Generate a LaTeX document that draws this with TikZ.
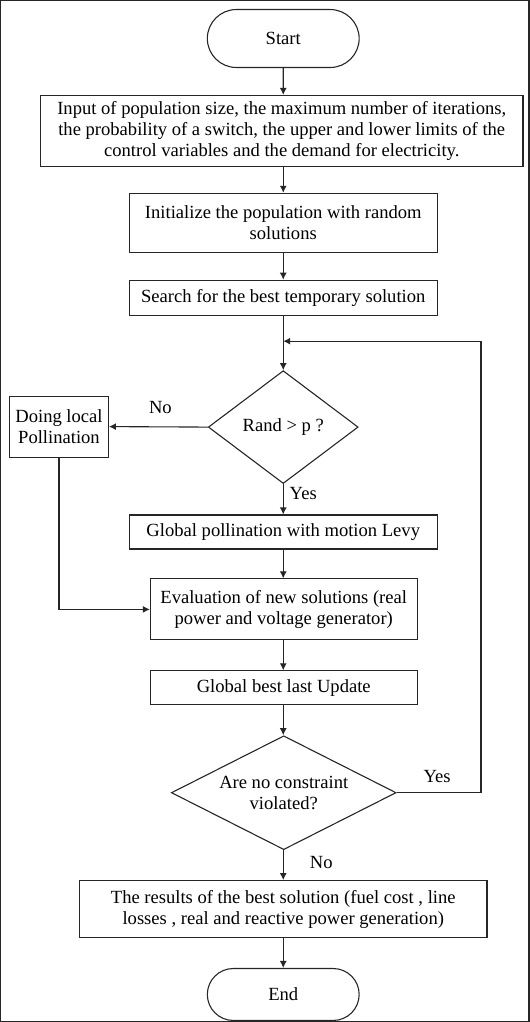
\documentclass[tikz,border=0pt]{standalone}
\usepackage{fontspec}
\setmainfont{Liberation Serif}
\usetikzlibrary{shapes.geometric,shapes.misc,arrows.meta}
\begin{document}
\begin{tikzpicture}[x=1pt,y=-1pt,
  font=\fontsize{18.6}{21}\selectfont,
  every path/.style={line width=1.1pt, draw=black!85},
  box/.style={draw=black!85, line width=1.1pt, align=center, inner sep=1pt, rectangle},
  term/.style={draw=black!85, line width=1.1pt, rounded rectangle, minimum width=152pt, minimum height=58pt, inner sep=0pt},
  dec/.style={draw=black!85, line width=1.1pt, diamond, align=center, inner sep=0pt},
  arr/.style={-{Latex[length=7pt,width=7pt]}},
  lbl/.style={inner sep=0pt}]
\useasboundingbox (0,0) rectangle (529,1022);
\node[term] (start) at (283,38) {Start};
\node[box, minimum width=483pt, minimum height=71pt] (input) at (281.5,130.5)
  {Input of population size, the maximum number of iterations,\\the probability of a switch, the upper and lower limits of the\\control variables and the demand for electricity.};
\node[box, minimum width=308pt, minimum height=59pt] (init) at (283,222.5)
  {Initialize the population with random\\solutions};
\node[box, minimum width=308pt, minimum height=35pt] (search) at (283,297.5)
  {Search for the best temporary solution};
\node[dec, shape aspect=1.33, minimum width=150pt, minimum height=113pt] (dia1) at (283,427) {Rand > p ?};
\node[box, minimum width=99pt, minimum height=61pt] (local) at (58.5,426.5)
  {Doing local\\Pollination};
\node[box, minimum width=308pt, minimum height=34pt] (glob) at (283,532)
  {Global pollination with motion Levy};
\node[box, minimum width=267pt, minimum height=61pt] (eval) at (283.5,609.5)
  {Evaluation of new solutions (real\\power and voltage generator)};
\node[box, minimum width=267pt, minimum height=34pt] (best) at (283.5,688)
  {Global best last Update};
\node[dec, shape aspect=2, minimum width=225pt, minimum height=114pt] (dia2) at (283.5,793)
  {Are no constraint\\violated?};
\node[box, minimum width=408pt, minimum height=57pt] (res) at (283,909.5)
  {The results of the best solution (fuel cost , line\\losses , real and reactive power generation)};
\node[term, minimum height=52pt] (end) at (283,995) {End};

\coordinate (lj) at (283,341);
\coordinate (lr) at (481,341);

\draw[arr] (start) -- (input.north -| start);
\draw[arr] (input.south -| start) -- (init);
\draw[arr] (init) -- (search);
\draw[arr] (search) -- (dia1.north);
\draw[arr] (dia1.west) -- (local.east);
\draw[arr] (dia1.south) -- (glob.north);
\draw[arr] (glob.south) -- (eval.north -| glob);
\draw[arr] (local.south) |- (eval.west);
\draw[arr] (eval.south -| glob) -- (best.north -| glob);
\draw[arr] (best.south -| glob) -- (dia2.north -| glob);
\draw[arr] (dia2.south -| glob) -- (res.north -| glob);
\draw[arr] (res.south -| glob) -- (end.north);
\draw[arr] (dia2.east) -| (lr) -- (lj);

\node[lbl] (no1) at (160,407) {No};
\node[lbl] (yes1) at (303,493) {Yes};
\node[lbl] (yes2) at (437,777) {Yes};
\node[lbl] (no2) at (321,863) {No};
\end{tikzpicture}
\end{document}
